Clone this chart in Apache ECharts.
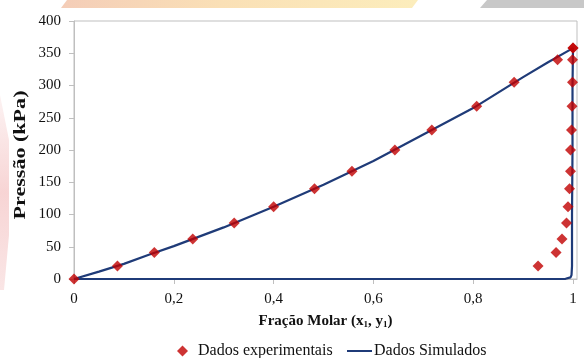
<!DOCTYPE html>
<html>
<head>
<meta charset="utf-8">
<script src="https://cdn.jsdelivr.net/npm/echarts@6/dist/echarts.min.js"></script>
<style>
  html, body { margin: 0; padding: 0; background: #fff; }
  #chart { width: 584px; height: 358px; }
</style>
</head>
<body>
<div id="chart"></div>
<script>
// dados experimentais: curva de bolha (x1) e de orvalho (y1)
var expX1 = [0, 0.087, 0.161, 0.238, 0.321, 0.400, 0.482, 0.557, 0.643, 0.717, 0.807, 0.882, 0.969, 1.000];
var expPx = [0, 20, 41, 62, 87, 112, 140, 167, 200, 231, 268, 305, 340, 358];
var expY1 = [0.930, 0.966, 0.978, 0.987, 0.990, 0.993, 0.995, 0.995, 0.997, 0.998, 0.999, 0.999, 1.000];
var expPy = [20, 41, 62, 87, 112, 140, 167, 200, 231, 268, 305, 340, 358];

// dados simulados
var simBolhaX = [0, 0.05, 0.1, 0.15, 0.2, 0.3, 0.4, 0.5, 0.6, 0.7, 0.8, 0.9, 0.95, 1];
var simBolhaP = [0, 11.5, 23.5, 37.5, 51, 80, 112, 146, 183, 224, 265, 313, 336, 358];
var simOrvY = [0.999, 0.999, 0.998, 0.998, 0.997, 0.995, 0.992, 0.985, 0.97, 0];
var simOrvP = [300, 200, 100, 20, 6, 2.5, 1, 0.3, 0, 0];

var xTicks = [0, 0.2, 0.4, 0.6, 0.8, 1];
var yTicks = [0, 50, 100, 150, 200, 250, 300, 350, 400];

var expData = [];
for (var i = 0; i < expX1.length; i++) expData.push([expX1[i], expPx[i]]);
for (var j = 0; j < expY1.length; j++) expData.push([expY1[j], expPy[j]]);

var simData = [];
for (var k = 0; k < simBolhaX.length; k++) simData.push([simBolhaX[k], simBolhaP[k]]);
for (var m = 0; m < simOrvY.length; m++) simData.push([simOrvY[m], simOrvP[m]]);

var serif = '"Liberation Serif", "Times New Roman", serif';

var myChart = echarts.init(document.getElementById('chart'), null, { renderer: 'canvas' });

var option = {
    animation: false,
    backgroundColor: '#fff',
    graphic: [
        // faixas decorativas do fundo
        {
            type: 'polygon', silent: true, z: -10,
            shape: { points: [[67, 0], [418, 0], [412, 8], [61, 8]] },
            style: {
                fill: new echarts.graphic.LinearGradient(0, 0, 1, 0, [
                    { offset: 0, color: '#f4cdb8' },
                    { offset: 0.45, color: '#fae0b6' },
                    { offset: 1, color: '#fcedbc' }
                ])
            }
        },
        {
            type: 'polygon', silent: true, z: -10,
            shape: { points: [[487, 0], [584, 0], [584, 8], [480, 8]] },
            style: { fill: '#c8c8c8' }
        },
        {
            type: 'polygon', silent: true, z: -10,
            shape: { points: [[0, 95], [9, 140], [9, 235], [4, 290], [0, 290]] },
            style: {
                fill: new echarts.graphic.LinearGradient(0, 0, 0, 1, [
                    { offset: 0, color: 'rgba(238,170,170,0.15)' },
                    { offset: 0.5, color: 'rgba(238,160,160,0.45)' },
                    { offset: 1, color: 'rgba(238,170,170,0.3)' }
                ])
            }
        },
        // título do eixo y
        {
            type: 'text',
            x: 21, y: 155,
            rotation: Math.PI / 2,
            scaleX: 1.38,
            style: {
                text: 'Pressão (kPa)',
                x: 0, y: 0,
                align: 'center',
                verticalAlign: 'middle',
                fill: '#111',
                font: 'bold 16px ' + serif
            }
        }
    ],
    grid: {
        left: 74,
        right: 7,
        top: 21,
        bottom: 79,
        show: true,
        borderColor: '#bfbfbf',
        borderWidth: 1
    },
    legend: [
        {
            left: 177,
            top: 343,
            padding: 0,
            itemWidth: 11,
            itemHeight: 11,
            data: ['Dados experimentais'],
            textStyle: { fontFamily: serif, fontSize: 16, color: '#111', padding: [0, 0, 0, 5] }
        },
        {
            left: 347,
            top: 343,
            padding: 0,
            itemWidth: 25,
            itemHeight: 2,
            data: [{ name: 'Dados Simulados', icon: 'rect' }],
            textStyle: { fontFamily: serif, fontSize: 16, color: '#111', padding: [0, 0, 0, -3] }
        }
    ],
    xAxis: {
        type: 'value',
        min: 0,
        max: 1.008,
        interval: 0.2,
        name: 'Fração Molar (x{s|1}, y{s|1})',
        nameLocation: 'middle',
        nameGap: 35,
        nameTextStyle: {
            fontFamily: serif, fontSize: 15, fontWeight: 'bold', color: '#111',
            rich: { s: { fontFamily: serif, fontSize: 9, fontWeight: 'bold', color: '#111', verticalAlign: 'bottom', padding: [6, 0, 0, 0] } }
        },
        axisLine: { show: true, lineStyle: { color: '#bfbfbf', width: 1 } },
        axisTick: { show: true, length: 5, lineStyle: { color: '#bfbfbf' } },
        splitLine: { show: false },
        axisLabel: {
            margin: 13,
            fontFamily: serif, fontSize: 15, color: '#111',
            showMaxLabel: false,
            formatter: function (v) {
                for (var t = 0; t < xTicks.length; t++) {
                    if (Math.abs(v - xTicks[t]) < 1e-6) return String(xTicks[t]).replace('.', ',');
                }
                return '';
            }
        }
    },
    yAxis: {
        type: 'value',
        min: yTicks[0],
        max: yTicks[yTicks.length - 1],
        interval: 50,
        axisLine: { show: true, lineStyle: { color: '#bfbfbf', width: 1 } },
        axisTick: { show: true, length: 5, lineStyle: { color: '#bfbfbf' } },
        splitLine: { show: false },
        axisLabel: { margin: 13, fontFamily: serif, fontSize: 15, color: '#111' }
    },
    series: [
        {
            name: 'Dados Simulados',
            type: 'line',
            data: simData,
            symbol: 'none',
            clip: false,
            lineStyle: { color: '#1f3b78', width: 2.2 },
            itemStyle: { color: '#1f3b78' },
            z: 2
        },
        {
            name: 'Dados experimentais',
            type: 'scatter',
            data: expData,
            symbol: 'diamond',
            symbolSize: 11,
            itemStyle: { color: '#c00000' },
            z: 3
        }
    ]
};
myChart.setOption(option);
</script>
</body>
</html>
